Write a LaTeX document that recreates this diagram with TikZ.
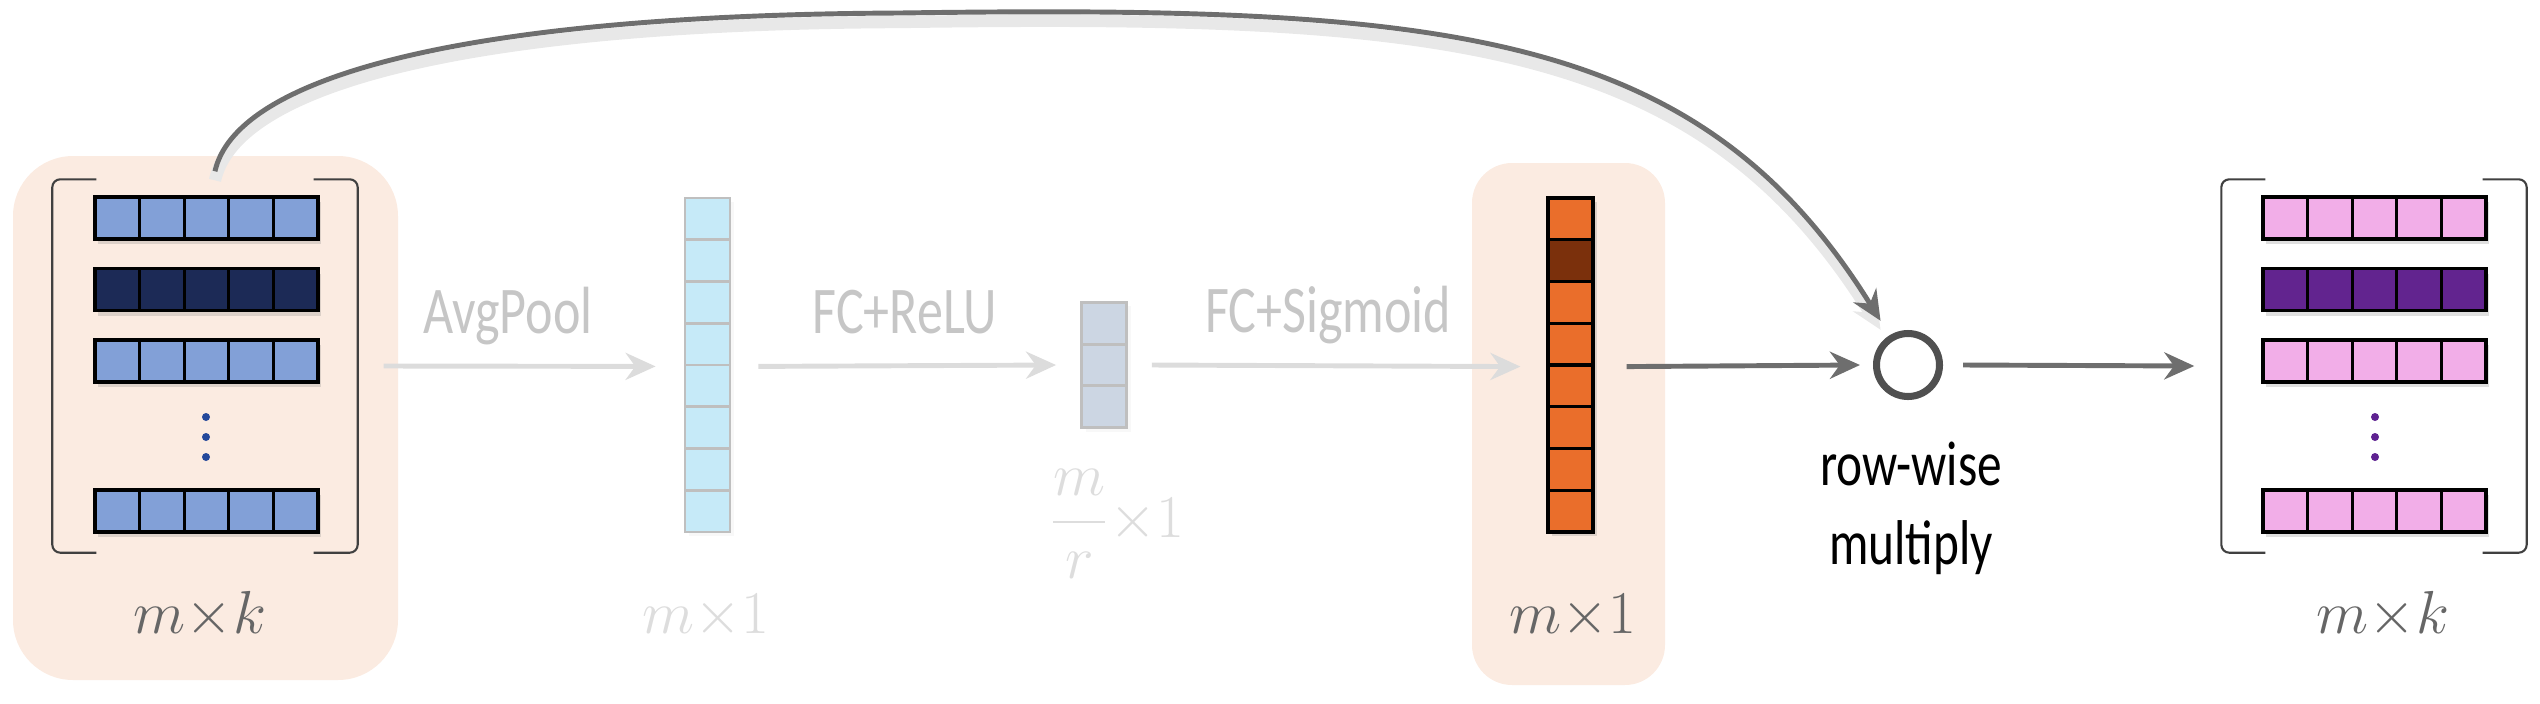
\documentclass[tikz,border=0pt]{standalone}
\usepackage{amsmath}
\usepackage{fontspec}
\usetikzlibrary{arrows.meta,shadows,positioning}
\newfontfamily\labelfont[FakeStretch=0.78]{Carlito}

\definecolor{peach}{HTML}{FBEBE1}
\definecolor{rowblue}{HTML}{82A0D7}
\definecolor{rownavy}{HTML}{1C2A56}
\definecolor{dotblue}{HTML}{24489A}
\definecolor{paleblue}{HTML}{C6EAF8}
\definecolor{palegray}{HTML}{CCD6E3}
\definecolor{fadeline}{HTML}{BFBFBF}
\definecolor{fadearrow}{HTML}{DCDCDC}
\definecolor{fadetext}{HTML}{C6C6C6}
\definecolor{fadedim}{HTML}{DDDDDD}
\definecolor{dimgray}{HTML}{666666}
\definecolor{orangecell}{HTML}{EA6E2B}
\definecolor{browncell}{HTML}{7B300C}
\definecolor{pinkcell}{HTML}{F2AEE8}
\definecolor{purplecell}{HTML}{62248F}
\definecolor{dotpurple}{HTML}{5E2291}
\definecolor{arrowgray}{HTML}{6E6E6E}
\definecolor{ringgray}{HTML}{505050}

\begin{document}
\begin{tikzpicture}[x=0.1mm, y=-0.1mm,
    panel/.style = {fill=peach, inner sep=0pt},
    hcell/.style = {draw=black, line width=0.9pt, minimum width=4.46mm, minimum height=4.2mm, inner sep=0pt,
        drop shadow={opacity=0.25, shadow xshift=0.3mm, shadow yshift=-0.5mm}},
    vcell/.style = {draw=black, line width=0.9pt, minimum width=4.5mm, minimum height=4.175mm, inner sep=0pt,
        drop shadow={opacity=0.25, shadow xshift=0.4mm, shadow yshift=-0.4mm}},
    fcell/.style = {draw=fadeline, line width=0.8pt, minimum width=4.5mm, minimum height=4.175mm, inner sep=0pt,
        drop shadow={opacity=0.06, shadow xshift=0.4mm, shadow yshift=-0.4mm}},
    dot/.style = {circle, inner sep=0pt, minimum size=0.8mm},
    bracket/.style = {draw=black!75, line width=0.6pt, rounded corners=0.8mm},
    dim/.style = {text=dimgray, font=\fontsize{17.28pt}{20pt}\selectfont},
    dimfade/.style = {text=fadedim, font=\fontsize{17.28pt}{20pt}\selectfont},
    op/.style = {text=fadetext, font=\labelfont\fontsize{19pt}{23pt}\selectfont},
    note/.style = {text=black, font=\labelfont\fontsize{18pt}{22.5pt}\selectfont},
    fadearrow/.style = {-{Stealth[length=3mm, width=2.7mm]}, draw=fadearrow, line width=1.4pt},
    arrow/.style = {-{Stealth[length=3mm, width=2.7mm]}, draw=arrowgray, line width=1.4pt}]

    \useasboundingbox (0,0) rectangle (2540,703);

    % panels behind the input and the weights
    \node[panel, rounded corners=6mm, minimum width=38.5mm, minimum height=52.4mm] (lpanel) at (205.5,418) {};
    \node[panel, rounded corners=4mm, minimum width=19.3mm, minimum height=52.2mm] (opanel) at (1568.5,424) {};

    % input matrix
    \node[minimum width=30.4mm, minimum height=37.2mm] (lmat) at (205,366) {};
    \draw[bracket] ([xshift=4.4mm]lmat.north west) -| (lmat.south west) -- ++(44,0);
    \draw[bracket] ([xshift=-4.4mm]lmat.north east) -| (lmat.south east) -- ++(-44,0);
    \foreach \y/\c [count=\r] in {218/rowblue, 289.5/rownavy, 361/rowblue, 511/rowblue}
        \foreach \i in {1,...,5}
            \node[hcell, fill=\c] (l\r\i) at (95+44.6*\i-22.3, \y) {};
    \foreach \d in {1,2,3}
        \node[dot, fill=dotblue] (ld\d) at (206, 397+20*\d) {};

    % pooled vector
    \foreach \i in {1,...,8}
        \node[fcell, fill=paleblue] (b\i) at (707.5, 198+41.75*\i-20.875) {};

    % squeezed vector
    \foreach \i in {1,2,3}
        \node[fcell, fill=palegray] (g\i) at (1104, 365+41.75*\i-83.5) {};

    % weights
    \foreach \c [count=\i] in {orangecell,browncell,orangecell,orangecell,orangecell,orangecell,orangecell,orangecell}
        \node[vcell, fill=\c] (o\i) at (1570.5, 198+41.75*\i-20.875) {};

    % product
    \node[circle, draw=ringgray, line width=2pt, minimum size=6.3mm, inner sep=0pt] (mul) at (1908,365) {};
    \node[note, align=center] (mullabel) at (1911,508) {row-wise\\multiply};

    % output matrix
    \node[minimum width=30.4mm, minimum height=37.2mm] (rmat) at (2374,366) {};
    \draw[bracket] ([xshift=4.4mm]rmat.north west) -| (rmat.south west) -- ++(44,0);
    \draw[bracket] ([xshift=-4.4mm]rmat.north east) -| (rmat.south east) -- ++(-44,0);
    \foreach \y/\c [count=\r] in {218/pinkcell, 289.5/purplecell, 361/pinkcell, 511/pinkcell}
        \foreach \i in {1,...,5}
            \node[hcell, fill=\c] (r\r\i) at (2263+44.6*\i-22.3, \y) {};
    \foreach \d in {1,2,3}
        \node[dot, fill=dotpurple] (rd\d) at (2375, 397+20*\d) {};

    % sizes
    \node[dim, anchor=base] (lsize) at (200,633) {$m{\times}k$};
    \node[dimfade, anchor=base] (bsize) at (706,633) {$m{\times}1$};
    \node[dimfade, anchor=base] (gsize) at (1117,537) {$\dfrac{m}{r}{\times}1$};
    \node[dim, anchor=base] (osize) at (1573,633) {$m{\times}1$};
    \node[dim, anchor=base] (rsize) at (2383,633) {$m{\times}k$};

    % steps
    \node[op, anchor=base] (avg) at (508,333) {AvgPool};
    \node[op, anchor=base] (fcr) at (905,333) {FC+ReLU};
    \node[op, anchor=base] (fcs) at (1328,332) {FC+Sigmoid};

    \draw[fadearrow] ([xshift=2.6mm]lmat.east) -- ([xshift=-2.8mm]b4.south west);
    \draw[fadearrow] ([xshift=2.7mm]b4.south east) -- ([xshift=-2.4mm]g2.west);
    \draw[fadearrow] ([xshift=2.4mm]g2.east) -- ([xshift=-2.6mm]o4.south west);
    \draw[arrow] ([xshift=3.2mm]o4.south east) -- ([xshift=-1.3mm]mul.west);
    \draw[arrow] ([xshift=2mm]mul.east) -- ([xshift=-2.7mm]rmat.west);

    % skip connection
    \draw[arrow, shorten >=1.7mm, preaction={draw=black!9, line width=3.5pt, transform canvas={yshift=-0.9mm}}]
        ([xshift=1mm,yshift=0.8mm]lmat.north) .. controls (235,80) and (450,15) .. (900,13)
        .. controls (1450,5) and (1700,30) .. (mul);
\end{tikzpicture}
\end{document}
